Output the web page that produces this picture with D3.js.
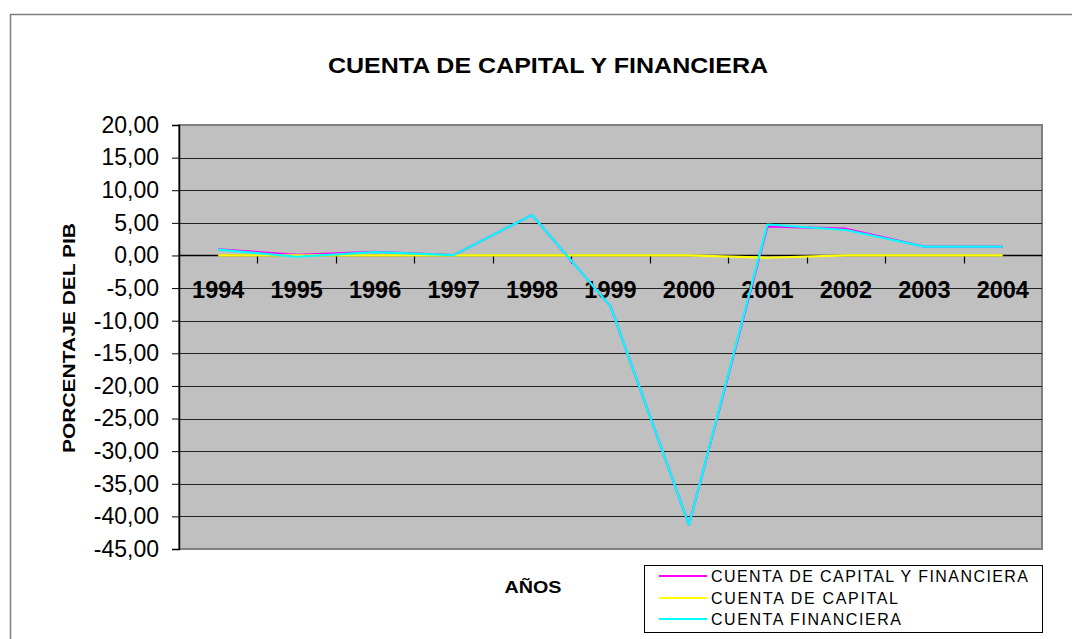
<!DOCTYPE html>
<html>
<head>
<meta charset="utf-8">
<script src="https://cdn.jsdelivr.net/npm/d3@7"></script>
<style>
  html, body { margin: 0; padding: 0; background: #fff; }
  svg { display: block; }
  text { font-family: "Liberation Sans", Arial, sans-serif; fill: #000; }
</style>
</head>
<body>
<svg id="chart" width="1072" height="639"></svg>
<script>
const years = ["1994","1995","1996","1997","1998","1999","2000","2001","2002","2003","2004"];
const capitalYFinanciera = [0.95, 0.10, 0.55, 0.05, 6.20, -7.80, -41.30, 4.45, 4.10, 1.35, 1.35];
const cuentaCapital      = [0.00, 0.00, 0.00, 0.00, 0.00, 0.00, 0.00, -0.35, 0.00, 0.00, 0.00];
const cuentaFinanciera   = [0.90, -0.20, 0.50, 0.05, 6.20, -7.80, -41.30, 4.75, 3.90, 1.35, 1.35];
const yTicks = [20, 15, 10, 5, 0, -5, -10, -15, -20, -25, -30, -35, -40, -45];
const seriesNames = ["CUENTA DE CAPITAL Y FINANCIERA", "CUENTA DE CAPITAL", "CUENTA FINANCIERA"];
const seriesColors = ["#ff00ff", "#ffff00", "#00ffff"];
const titleText = "CUENTA DE CAPITAL Y FINANCIERA";
const xTitle = "AÑOS";
const yTitle = "PORCENTAJE DEL PIB";

const series = [capitalYFinanciera, cuentaCapital, cuentaFinanciera];

const svg = d3.select("#chart");
const plot = { left: 179, right: 1042, top: 125, bottom: 549 };

// chart outer border
svg.append("rect").attr("x", 10.5).attr("y", 14.5).attr("width", 1080).attr("height", 640)
  .attr("fill", "#fff").attr("stroke", "#808080").attr("stroke-width", 1.5);

const x = d3.scaleBand().domain(years).range([plot.left, plot.right]).padding(0);
const y = d3.scaleLinear().domain([-45, 20]).range([plot.bottom, plot.top]);

// plot area
svg.append("rect").attr("x", plot.left).attr("y", plot.top)
  .attr("width", plot.right - plot.left).attr("height", plot.bottom - plot.top)
  .attr("fill", "#c0c0c0").attr("stroke", "#808080").attr("stroke-width", 2);

// gridlines
svg.append("g").selectAll("line").data(yTicks.filter(t => t !== 20 && t !== -45)).join("line")
  .attr("x1", plot.left).attr("x2", plot.right)
  .attr("y1", d => Math.round(y(d)) + 0.5).attr("y2", d => Math.round(y(d)) + 0.5)
  .attr("stroke", "#222").attr("stroke-width", 1.2);

// y axis
const yAxis = d3.axisLeft(y).tickValues(yTicks).tickSize(7).tickPadding(13)
  .tickFormat(d => d3.format(".2f")(d).replace(".", ",").replace("−", "-"));
const gy = svg.append("g").attr("transform", `translate(${plot.left},0)`).call(yAxis);
gy.select(".domain").attr("stroke", "#000").attr("stroke-width", 1.5);
gy.selectAll(".tick line").attr("stroke", "#000");
gy.selectAll(".tick text").attr("font-size", 23).attr("fill", "#000")
  .attr("font-family", '"Liberation Sans", Arial, sans-serif');

// x axis line at zero
const x0 = Math.round(y(0)) + 0.5;
svg.append("line").attr("x1", plot.left).attr("x2", plot.right).attr("y1", x0).attr("y2", x0)
  .attr("stroke", "#000").attr("stroke-width", 1.5);
// x ticks at category boundaries
const bounds = years.slice(1).map(yr => x(yr));
svg.append("g").selectAll("line").data(bounds).join("line")
  .attr("x1", d => Math.round(d) + 0.5).attr("x2", d => Math.round(d) + 0.5)
  .attr("y1", x0).attr("y2", x0 + 8).attr("stroke", "#000").attr("stroke-width", 1.2);

// x labels
svg.append("g").selectAll("text").data(years).join("text")
  .attr("x", d => x(d) + x.bandwidth() / 2).attr("y", 298)
  .attr("text-anchor", "middle").attr("font-size", 23.5).attr("font-weight", "bold")
  .text(d => d);

// lines
const line = d3.line().x((d, i) => x(years[i]) + x.bandwidth() / 2).y(d => y(d));
series.forEach((s, k) => {
  svg.append("path").datum(s).attr("d", line).attr("fill", "none")
    .attr("stroke", seriesColors[k]).attr("stroke-width", 2.2).attr("stroke-linejoin", "round");
});

// title
svg.append("text").attr("x", 548).attr("y", 73).attr("text-anchor", "middle")
  .attr("font-size", 22).attr("font-weight", "bold")
  .attr("textLength", 440).attr("lengthAdjust", "spacingAndGlyphs").text(titleText);

// axis titles
svg.append("text").attr("x", 533).attr("y", 593).attr("text-anchor", "middle")
  .attr("font-size", 17).attr("font-weight", "bold")
  .attr("textLength", 57).attr("lengthAdjust", "spacingAndGlyphs").text(xTitle);
svg.append("text").attr("transform", "translate(75,338) rotate(-90)").attr("text-anchor", "middle")
  .attr("font-size", 17).attr("font-weight", "bold")
  .attr("textLength", 230).attr("lengthAdjust", "spacingAndGlyphs").text(yTitle);

// legend
const lg = svg.append("g");
lg.append("rect").attr("x", 644.5).attr("y", 565.5).attr("width", 398).attr("height", 67)
  .attr("fill", "#fff").attr("stroke", "#000").attr("stroke-width", 1);
const legendY = [576, 598, 619];
const legendLen = [317, 187, 190];
seriesNames.forEach((n, k) => {
  lg.append("line").attr("x1", 659).attr("x2", 707).attr("y1", legendY[k]).attr("y2", legendY[k])
    .attr("stroke", seriesColors[k]).attr("stroke-width", 2);
  lg.append("text").attr("x", 711).attr("y", legendY[k] + 6).attr("font-size", 16)
    .attr("textLength", legendLen[k]).attr("lengthAdjust", "spacing").text(n);
});
</script>
</body>
</html>
